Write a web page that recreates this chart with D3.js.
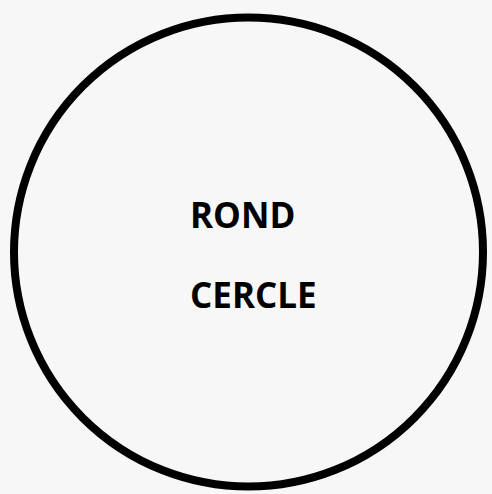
<!DOCTYPE html>
<html>
<head>
<meta charset="utf-8">
<script src="https://cdn.jsdelivr.net/npm/d3@7"></script>
<style>
	html, body { margin: 0; padding: 0; background: #f7f7f7; }
	svg { display: block; }
</style>
</head>
<body>
<script>
let width = 492;
let height = 494;

// the words written inside the circle, top to bottom
const labels = ['ROND', 'CERCLE'];

let svg = d3.select('body').append('svg')
	.attr('width', width)
	.attr('height', height);

svg.append('rect')
	.attr('width', width)
	.attr('height', height)
	.style('fill', '#f7f7f7');

// circle, outer edge about 10..487 across, 13..491 down
svg.append('circle')
	.attr('cx', 248.5)
	.attr('cy', 252)
	.attr('r', 234.5)
	.style('fill', 'none')
	.style('stroke', '#000')
	.style('stroke-width', 8);

let y = d3.scalePoint()
	.domain(labels)
	.range([228, 308]);

svg.selectAll('.label')
	.data(labels)
	.enter().append('text')
	.attr('class', 'label')
	.attr('x', 190)
	.attr('y', d => y(d))
	.style('font-family', '"Open Sans", sans-serif')
	.style('font-weight', 'bold')
	.style('font-size', '35px')
	.style('fill', '#000')
	.text(d => d);
</script>
</body>
</html>
